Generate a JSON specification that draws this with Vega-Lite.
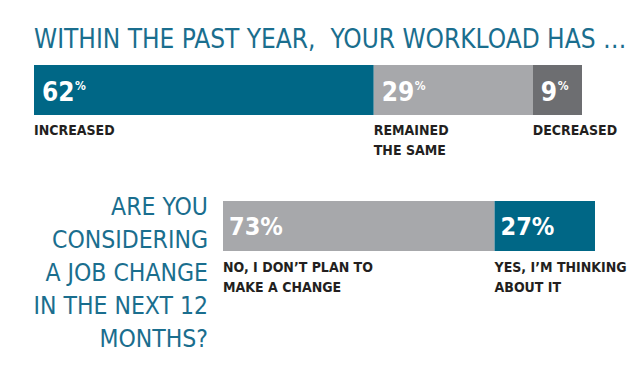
{
  "$schema": "https://vega.github.io/schema/vega-lite/v6.json",
  "background": "white",
  "padding": {"left": 33, "top": 27, "right": 0, "bottom": 0},
  "bounds": "flush",
  "spacing": 86,
  "resolve": {"scale": {"color": "independent"}},
  "config": {
    "view": {"stroke": null},
    "font": "DejaVu Sans Condensed, DejaVu Sans, sans-serif",
    "text": {"font": "DejaVu Sans Condensed, DejaVu Sans, sans-serif"}
  },
  "datasets": {
    "workload": [
      {"answer": "Increased", "pct": 62, "start": 0, "end": 62, "label": "INCREASED"},
      {"answer": "Remained the same", "pct": 29, "start": 62, "end": 91, "label": "REMAINED\nTHE SAME"},
      {"answer": "Decreased", "pct": 9, "start": 91, "end": 100, "label": "DECREASED"}
    ],
    "jobchange": [
      {"answer": "No", "pct": "73%", "start": 0, "end": 73, "label": "NO, I DON’T PLAN TO\nMAKE A CHANGE"},
      {"answer": "Yes", "pct": "27%", "start": 73, "end": 100, "label": "YES, I’M THINKING\nABOUT IT"}
    ],
    "question": [
      {"q": "ARE YOU\nCONSIDERING\nA JOB CHANGE\nIN THE NEXT 12\nMONTHS?"}
    ]
  },
  "vconcat": [
    {
      "title": {
        "text": "WITHIN THE PAST YEAR,\u00a0 YOUR WORKLOAD HAS …",
        "anchor": "start",
        "fontSize": 26,
        "fontWeight": "normal",
        "color": "#1a6e8e",
        "font": "DejaVu Sans Condensed, DejaVu Sans, sans-serif",
        "offset": 12
      },
      "width": 548,
      "height": 50,
      "data": {"name": "workload"},
      "layer": [
        {
          "mark": {"type": "bar"},
          "encoding": {
            "x": {"field": "start", "type": "quantitative", "scale": {"domain": [0, 100]}, "axis": null},
            "x2": {"field": "end"},
            "y": {"value": 0},
            "y2": {"value": "height"},
            "color": {
              "field": "answer",
              "type": "nominal",
              "scale": {"domain": ["Increased", "Remained the same", "Decreased"], "range": ["#006786", "#a7a8ab", "#6d6e71"]},
              "legend": null
            }
          }
        },
        {
          "mark": {"type": "text", "align": "left", "baseline": "middle", "dx": 8, "dy": 3, "fontSize": 26, "fontWeight": "bold", "color": "white"},
          "encoding": {
            "x": {"field": "start", "type": "quantitative"},
            "text": {"field": "pct", "type": "quantitative"}
          }
        },
        {
          "transform": [{"filter": "datum.pct >= 10"}],
          "mark": {"type": "text", "align": "left", "baseline": "middle", "dx": 41, "dy": -4, "fontSize": 12, "fontWeight": "bold", "color": "white", "text": "%"},
          "encoding": {
            "x": {"field": "start", "type": "quantitative"}
          }
        },
        {
          "transform": [{"filter": "datum.pct < 10"}],
          "mark": {"type": "text", "align": "left", "baseline": "middle", "dx": 25, "dy": -4, "fontSize": 12, "fontWeight": "bold", "color": "white", "text": "%"},
          "encoding": {
            "x": {"field": "start", "type": "quantitative"}
          }
        },
        {
          "mark": {"type": "text", "align": "left", "baseline": "top", "y": "height", "dy": 9, "fontSize": 14, "fontWeight": "bold", "lineHeight": 20, "lineBreak": "\n", "color": "#231f20"},
          "encoding": {
            "x": {"field": "start", "type": "quantitative"},
            "text": {"field": "label"}
          }
        }
      ]
    },
    {
      "bounds": "flush",
      "spacing": 15,
      "resolve": {"scale": {"color": "independent"}},
      "hconcat": [
        {
          "width": 174,
          "height": 50,
          "data": {"name": "question"},
          "mark": {"type": "text", "x": "width", "y": 0, "dy": -5, "align": "right", "baseline": "top", "lineBreak": "\n", "lineHeight": 33, "fontSize": 24.5, "color": "#1a6e8e"},
          "encoding": {"text": {"field": "q"}}
        },
        {
          "width": 372,
          "height": 50,
          "data": {"name": "jobchange"},
          "layer": [
            {
              "mark": {"type": "bar"},
              "encoding": {
                "x": {"field": "start", "type": "quantitative", "scale": {"domain": [0, 100]}, "axis": null},
                "x2": {"field": "end"},
                "y": {"value": 0},
                "y2": {"value": "height"},
                "color": {
                  "field": "answer",
                  "type": "nominal",
                  "scale": {"domain": ["No", "Yes"], "range": ["#a7a8ab", "#006786"]},
                  "legend": null
                }
              }
            },
            {
              "mark": {"type": "text", "align": "left", "baseline": "middle", "dx": 6, "dy": 1, "fontSize": 25, "fontWeight": "bold", "color": "white"},
              "encoding": {
                "x": {"field": "start", "type": "quantitative"},
                "text": {"field": "pct"}
              }
            },
            {
              "mark": {"type": "text", "align": "left", "baseline": "top", "y": "height", "dy": 10, "fontSize": 14, "fontWeight": "bold", "lineHeight": 20, "lineBreak": "\n", "color": "#231f20"},
              "encoding": {
                "x": {"field": "start", "type": "quantitative"},
                "text": {"field": "label"}
              }
            }
          ]
        }
      ]
    }
  ]
}
